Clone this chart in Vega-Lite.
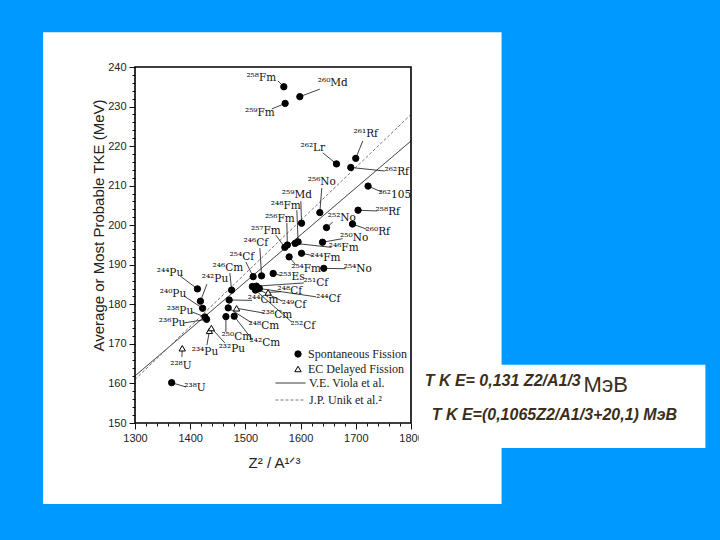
{
  "$schema": "https://vega.github.io/schema/vega-lite/v6.json",
  "background": "#ffffff",
  "autosize": {"type": "none"},
  "padding": {"left": 135, "top": 67, "right": 309, "bottom": 117},
  "width": 276,
  "height": 356,
  "config": {"view": {"stroke": null}, "axis": {"labelOverlap": false, "labelBound": false, "labelFlush": false}},
  "datasets": {
    "nuclides": [
      {"nuclide": "²⁵⁸Fm", "mode": "Spontaneous Fission", "z2a13": 1569.6, "tke": 235.0, "label_x": 1528.9, "label_y": 237.2, "leader_x": 1558.8, "leader_y": 236.5},
      {"nuclide": "²⁶⁰Md", "mode": "Spontaneous Fission", "z2a13": 1598.6, "tke": 232.5, "label_x": 1658.3, "label_y": 235.9, "leader_x": 1634.8, "leader_y": 234.4},
      {"nuclide": "²⁵⁹Fm", "mode": "Spontaneous Fission", "z2a13": 1572.0, "tke": 230.8, "label_x": 1526.2, "label_y": 228.4, "leader_x": 1547.9, "leader_y": 229.4},
      {"nuclide": "²⁶²Lr", "mode": "Spontaneous Fission", "z2a13": 1665.0, "tke": 215.5, "label_x": 1622.1, "label_y": 219.5, "leader_x": 1640.2, "leader_y": 218.3},
      {"nuclide": "²⁶¹Rf", "mode": "Spontaneous Fission", "z2a13": 1699.9, "tke": 216.9, "label_x": 1718.0, "label_y": 223.1, "leader_x": 1712.6, "leader_y": 221.3},
      {"nuclide": "²⁶²Rf", "mode": "Spontaneous Fission", "z2a13": 1690.9, "tke": 214.6, "label_x": 1774.1, "label_y": 213.4, "leader_x": 1752.4, "leader_y": 213.7},
      {"nuclide": "²⁶²105", "mode": "Spontaneous Fission", "z2a13": 1722.2, "tke": 209.9, "label_x": 1770.5, "label_y": 207.6, "leader_x": 1747.0, "leader_y": 208.4},
      {"nuclide": "²⁵⁶No", "mode": "Spontaneous Fission", "z2a13": 1634.8, "tke": 203.2, "label_x": 1638.4, "label_y": 210.9, "leader_x": 1638.4, "leader_y": 209.4},
      {"nuclide": "²⁵⁸Rf", "mode": "Spontaneous Fission", "z2a13": 1704.1, "tke": 203.8, "label_x": 1757.8, "label_y": 203.3, "leader_x": 1737.9, "leader_y": 203.6},
      {"nuclide": "²⁵⁹Md", "mode": "Spontaneous Fission", "z2a13": 1601.7, "tke": 200.5, "label_x": 1593.2, "label_y": 207.6, "leader_x": 1600.4, "leader_y": 206.1},
      {"nuclide": "²⁵²No", "mode": "Spontaneous Fission", "z2a13": 1646.9, "tke": 199.4, "label_x": 1674.6, "label_y": 201.8, "leader_x": 1658.3, "leader_y": 200.8},
      {"nuclide": "²⁶⁰Rf", "mode": "Spontaneous Fission", "z2a13": 1694.0, "tke": 200.3, "label_x": 1739.7, "label_y": 198.3, "leader_x": 1719.8, "leader_y": 199.0},
      {"nuclide": "²⁴⁸Fm", "mode": "Spontaneous Fission", "z2a13": 1595.5, "tke": 195.8, "label_x": 1573.2, "label_y": 204.9, "leader_x": 1593.2, "leader_y": 203.8},
      {"nuclide": "²⁴⁶Fm", "mode": "Spontaneous Fission", "z2a13": 1590.1, "tke": 195.4, "label_x": 1678.0, "label_y": 194.2, "leader_x": 1656.0, "leader_y": 194.4},
      {"nuclide": "²⁵⁶Fm", "mode": "Spontaneous Fission", "z2a13": 1576.0, "tke": 195.0, "label_x": 1562.4, "label_y": 201.6, "leader_x": 1575.1, "leader_y": 200.6},
      {"nuclide": "²⁵⁷Fm", "mode": "Spontaneous Fission", "z2a13": 1571.4, "tke": 194.4, "label_x": 1537.1, "label_y": 198.5, "leader_x": 1555.2, "leader_y": 197.5},
      {"nuclide": "²⁴⁴Fm", "mode": "Spontaneous Fission", "z2a13": 1601.7, "tke": 192.9, "label_x": 1645.0, "label_y": 191.8, "leader_x": 1623.0, "leader_y": 192.3},
      {"nuclide": "²⁵⁴Fm", "mode": "Spontaneous Fission", "z2a13": 1579.2, "tke": 192.0, "label_x": 1610.0, "label_y": 188.9, "leader_x": 1591.0, "leader_y": 190.0},
      {"nuclide": "²⁵⁰No", "mode": "Spontaneous Fission", "z2a13": 1639.7, "tke": 195.7, "label_x": 1697.0, "label_y": 196.8, "leader_x": 1676.0, "leader_y": 196.6},
      {"nuclide": "²⁵⁴No", "mode": "Spontaneous Fission", "z2a13": 1642.0, "tke": 189.1, "label_x": 1703.5, "label_y": 188.9, "leader_x": 1681.8, "leader_y": 189.0},
      {"nuclide": "²⁵³Es", "mode": "Spontaneous Fission", "z2a13": 1550.3, "tke": 187.8, "label_x": 1584.0, "label_y": 186.8, "leader_x": 1564.0, "leader_y": 187.3},
      {"nuclide": "²⁵⁴Cf", "mode": "Spontaneous Fission", "z2a13": 1514.1, "tke": 187.0, "label_x": 1493.6, "label_y": 192.0, "leader_x": 1500.9, "leader_y": 190.7},
      {"nuclide": "²⁴⁶Cf", "mode": "Spontaneous Fission", "z2a13": 1529.3, "tke": 187.2, "label_x": 1519.0, "label_y": 195.5, "leader_x": 1526.2, "leader_y": 194.2},
      {"nuclide": "²⁴⁶Cm", "mode": "Spontaneous Fission", "z2a13": 1475.0, "tke": 183.6, "label_x": 1468.3, "label_y": 189.2, "leader_x": 1471.9, "leader_y": 187.9},
      {"nuclide": "²⁵¹Cf", "mode": "Spontaneous Fission", "z2a13": 1519.9, "tke": 184.6, "label_x": 1627.5, "label_y": 185.4, "leader_x": 1605.8, "leader_y": 185.4},
      {"nuclide": "²⁴⁴Cf", "mode": "Spontaneous Fission", "z2a13": 1525.3, "tke": 184.0, "label_x": 1650.0, "label_y": 181.4, "leader_x": 1628.0, "leader_y": 181.9},
      {"nuclide": "²⁴⁹Cf", "mode": "Spontaneous Fission", "z2a13": 1512.6, "tke": 184.5, "label_x": 1588.0, "label_y": 179.8, "leader_x": 1567.0, "leader_y": 180.8},
      {"nuclide": "²⁵²Cf", "mode": "Spontaneous Fission", "z2a13": 1518.1, "tke": 183.6, "label_x": 1604.0, "label_y": 174.5, "leader_x": 1584.1, "leader_y": 175.5},
      {"nuclide": "²⁴⁴Cm", "mode": "Spontaneous Fission", "z2a13": 1470.6, "tke": 181.1, "label_x": 1532.0, "label_y": 181.0, "leader_x": 1512.0, "leader_y": 181.0},
      {"nuclide": "²⁴⁸Cm", "mode": "Spontaneous Fission", "z2a13": 1468.8, "tke": 179.1, "label_x": 1533.4, "label_y": 174.5, "leader_x": 1511.7, "leader_y": 175.3},
      {"nuclide": "²⁵⁰Cm", "mode": "Spontaneous Fission", "z2a13": 1464.7, "tke": 176.9, "label_x": 1484.6, "label_y": 171.7, "leader_x": 1464.7, "leader_y": 173.0},
      {"nuclide": "²⁴²Cm", "mode": "Spontaneous Fission", "z2a13": 1479.7, "tke": 177.0, "label_x": 1535.2, "label_y": 170.2, "leader_x": 1511.7, "leader_y": 171.2},
      {"nuclide": "²⁴⁴Pu", "mode": "Spontaneous Fission", "z2a13": 1413.1, "tke": 183.9, "label_x": 1363.3, "label_y": 187.9, "leader_x": 1381.4, "leader_y": 187.2},
      {"nuclide": "²⁴²Pu", "mode": "Spontaneous Fission", "z2a13": 1418.5, "tke": 180.8, "label_x": 1444.8, "label_y": 186.4, "leader_x": 1430.3, "leader_y": 185.1},
      {"nuclide": "²⁴⁰Pu", "mode": "Spontaneous Fission", "z2a13": 1422.5, "tke": 179.0, "label_x": 1368.8, "label_y": 182.6, "leader_x": 1388.7, "leader_y": 182.1},
      {"nuclide": "²³⁸Pu", "mode": "Spontaneous Fission", "z2a13": 1426.7, "tke": 176.8, "label_x": 1381.4, "label_y": 178.3, "leader_x": 1403.1, "leader_y": 178.1},
      {"nuclide": "²³⁶Pu", "mode": "Spontaneous Fission", "z2a13": 1429.7, "tke": 176.2, "label_x": 1367.0, "label_y": 175.3, "leader_x": 1388.7, "leader_y": 175.3},
      {"nuclide": "²³⁸U", "mode": "Spontaneous Fission", "z2a13": 1366.4, "tke": 160.2, "label_x": 1408.6, "label_y": 158.8, "leader_x": 1392.3, "leader_y": 159.1},
      {"nuclide": "²²⁸U", "mode": "EC Delayed Fission", "z2a13": 1385.6, "tke": 168.9, "label_x": 1383.2, "label_y": 164.4, "leader_x": 1385.0, "leader_y": 166.7},
      {"nuclide": "²³⁴Pu", "mode": "EC Delayed Fission", "z2a13": 1434.8, "tke": 173.3, "label_x": 1426.7, "label_y": 167.9, "leader_x": 1430.3, "leader_y": 169.7},
      {"nuclide": "²³²Pu", "mode": "EC Delayed Fission", "z2a13": 1438.4, "tke": 174.0, "label_x": 1475.5, "label_y": 168.7, "leader_x": 1462.9, "leader_y": 170.2},
      {"nuclide": "²³⁸Cm", "mode": "EC Delayed Fission", "z2a13": 1484.0, "tke": 179.0, "label_x": 1557.0, "label_y": 177.3, "leader_x": 1533.4, "leader_y": 177.8},
      {"nuclide": "²⁴⁸Cf", "mode": "EC Delayed Fission", "z2a13": 1541.2, "tke": 183.0, "label_x": 1580.5, "label_y": 183.4, "leader_x": 1564.2, "leader_y": 183.2}
    ],
    "fits": [
      {"fit": "V.E. Viola et al.", "z2a13": 1300, "tke": 161.9},
      {"fit": "V.E. Viola et al.", "z2a13": 1800, "tke": 221.3},
      {"fit": "J.P. Unik et al.²", "z2a13": 1300, "tke": 161.0},
      {"fit": "J.P. Unik et al.²", "z2a13": 1800, "tke": 228.0}
    ]
  },
  "layer": [
    {
      "data": {"name": "fits"},
      "mark": {"type": "line", "strokeWidth": 1},
      "encoding": {
        "x": {"field": "z2a13", "type": "quantitative", "scale": {"domain": [1300, 1800], "nice": false, "zero": false},
          "axis": {"title": "Z² / A¹ᐟ³", "tickCount": 100, "values": [1300, 1320, 1340, 1360, 1380, 1400, 1420, 1440, 1460, 1480, 1500, 1520, 1540, 1560, 1580, 1600, 1620, 1640, 1660, 1680, 1700, 1720, 1740, 1760, 1780, 1800],
            "format": "d", "labelExpr": "datum.value % 100 === 0 ? datum.label : ''", "labelOverlap": false, "labelFlush": false, "labelBound": false,
            "domain": false, "grid": false, "tickColor": "#111111", "tickWidth": 1,
            "tickSize": {"condition": {"test": "datum.value % 100 === 0", "value": 6}, "value": 3},
            "labelPadding": 3, "labelFont": "Liberation Sans", "labelFontSize": 11, "labelColor": "#222222",
            "titleFont": "Liberation Sans", "titleFontSize": 15, "titleFontWeight": "normal", "titleColor": "#222222",
            "titleX": 139, "titleY": 39, "titleBaseline": "middle", "titleAlign": "center"}},
        "y": {"field": "tke", "type": "quantitative", "scale": {"domain": [150, 240], "nice": false, "zero": false},
          "axis": {"title": "Average or Most Probable TKE (MeV)", "tickCount": 100, "values": [150, 152, 154, 156, 158, 160, 162, 164, 166, 168, 170, 172, 174, 176, 178, 180, 182, 184, 186, 188, 190, 192, 194, 196, 198, 200, 202, 204, 206, 208, 210, 212, 214, 216, 218, 220, 222, 224, 226, 228, 230, 232, 234, 236, 238, 240],
            "format": "d", "labelExpr": "datum.value % 10 === 0 ? datum.label : ''", "labelOverlap": false, "labelFlush": false, "labelBound": false,
            "domain": false, "grid": false, "tickColor": "#111111", "tickWidth": 1,
            "tickSize": {"condition": {"test": "datum.value % 10 === 0", "value": 6}, "value": 3},
            "labelPadding": 3, "labelFont": "Liberation Sans", "labelFontSize": 11, "labelColor": "#222222",
            "titleFont": "Liberation Sans", "titleFontSize": 15, "titleFontWeight": "normal", "titleColor": "#222222",
            "titleX": -37, "titleY": 158, "titleBaseline": "middle", "titleAlign": "center", "titleAngle": 270}},
        "strokeDash": {"field": "fit", "type": "nominal",
          "scale": {"domain": ["V.E. Viola et al.", "J.P. Unik et al.²"], "range": [[1, 0], [3, 2]]},
          "legend": {"orient": "none", "legendX": 140, "legendY": 310, "title": null, "symbolType": "stroke", "symbolSize": 900, "symbolStrokeWidth": 1, "clipHeight": 12, "labelFont": "Liberation Serif", "labelFontSize": 12, "labelColor": "#222222", "padding": 0, "rowPadding": 5, "labelOffset": 3}},
        "color": {"field": "fit", "type": "nominal",
          "scale": {"domain": ["V.E. Viola et al.", "J.P. Unik et al.²"], "range": ["#222222", "#777777"]},
          "legend": {"orient": "none", "legendX": 140, "legendY": 310, "title": null, "symbolType": "stroke", "symbolSize": 900, "symbolStrokeWidth": 1, "clipHeight": 12, "labelFont": "Liberation Serif", "labelFontSize": 12, "labelColor": "#222222", "padding": 0, "rowPadding": 5, "labelOffset": 3}}
      }
    },
    {
      "data": {"values": [{}]},
      "mark": {"type": "rect", "fill": "#0099ff"},
      "encoding": {
        "x": {"datum": 1000, "type": "quantitative"},
        "x2": {"datum": 2400},
        "y": {"datum": 248.8, "type": "quantitative"},
        "y2": {"datum": 262}
      }
    },
    {
      "data": {"values": [{}]},
      "mark": {"type": "rect", "fill": "#0099ff"},
      "encoding": {
        "x": {"datum": 1000, "type": "quantitative"},
        "x2": {"datum": 1133.5},
        "y": {"datum": 110, "type": "quantitative"},
        "y2": {"datum": 249}
      }
    },
    {
      "data": {"values": [{}]},
      "mark": {"type": "rect", "fill": "#0099ff"},
      "encoding": {
        "x": {"datum": 1133, "type": "quantitative"},
        "x2": {"datum": 2400},
        "y": {"datum": 110, "type": "quantitative"},
        "y2": {"datum": 129.5}
      }
    },
    {
      "data": {"values": [{}]},
      "mark": {"type": "rect", "fill": "#0099ff"},
      "encoding": {
        "x": {"datum": 1964.1, "type": "quantitative"},
        "x2": {"datum": 2400},
        "y": {"datum": 164.7, "type": "quantitative"},
        "y2": {"datum": 249}
      }
    },
    {
      "data": {"values": [{}]},
      "mark": {"type": "rect", "fill": "#0099ff"},
      "encoding": {
        "x": {"datum": 1964.1, "type": "quantitative"},
        "x2": {"datum": 2400},
        "y": {"datum": 110, "type": "quantitative"},
        "y2": {"datum": 143.7}
      }
    },
    {
      "data": {"values": [{}]},
      "mark": {"type": "rect", "fill": "#0099ff"},
      "encoding": {
        "x": {"datum": 2333.3, "type": "quantitative"},
        "x2": {"datum": 2400},
        "y": {"datum": 143.5, "type": "quantitative"},
        "y2": {"datum": 165}
      }
    },
    {
      "data": {"values": [{}]},
      "mark": {"type": "rect", "fill": "#ffffff"},
      "encoding": {
        "x": {"datum": 1813.9, "type": "quantitative"},
        "x2": {"datum": 1964.5},
        "y": {"datum": 143.7, "type": "quantitative"},
        "y2": {"datum": 164.7}
      }
    },
    {
      "data": {"name": "nuclides"},
      "mark": {"type": "rule", "stroke": "#111111", "strokeWidth": 0.8},
      "encoding": {
        "x": {"field": "z2a13", "type": "quantitative"},
        "y": {"field": "tke", "type": "quantitative"},
        "x2": {"field": "leader_x"},
        "y2": {"field": "leader_y"}
      }
    },
    {
      "data": {"name": "nuclides"},
      "mark": {"type": "point", "filled": true, "strokeWidth": 1, "size": 40, "opacity": 1},
      "encoding": {
        "x": {"field": "z2a13", "type": "quantitative"},
        "y": {"field": "tke", "type": "quantitative"},
        "shape": {"field": "mode", "type": "nominal",
          "scale": {"domain": ["Spontaneous Fission", "EC Delayed Fission"], "range": ["circle", "triangle-up"]},
          "legend": {"orient": "none", "legendX": 157, "legendY": 281, "title": null, "symbolSize": 40, "symbolStrokeWidth": 1, "labelFont": "Liberation Serif", "labelFontSize": 12, "labelColor": "#222222", "padding": 0, "rowPadding": 3, "labelOffset": 4}},
        "fill": {"field": "mode", "type": "nominal",
          "scale": {"domain": ["Spontaneous Fission", "EC Delayed Fission"], "range": ["#000000", "#ffffff"]},
          "legend": {"orient": "none", "legendX": 157, "legendY": 281, "title": null, "symbolSize": 40, "symbolStrokeWidth": 1, "labelFont": "Liberation Serif", "labelFontSize": 12, "labelColor": "#222222", "padding": 0, "rowPadding": 3, "labelOffset": 4}},
        "stroke": {"field": "mode", "type": "nominal",
          "scale": {"domain": ["Spontaneous Fission", "EC Delayed Fission"], "range": ["#000000", "#000000"]},
          "legend": {"orient": "none", "legendX": 157, "legendY": 281, "title": null, "symbolSize": 40, "symbolStrokeWidth": 1, "labelFont": "Liberation Serif", "labelFontSize": 12, "labelColor": "#222222", "padding": 0, "rowPadding": 3, "labelOffset": 4}}
      }
    },
    {
      "data": {"name": "nuclides"},
      "mark": {"type": "text", "font": "DejaVu Serif", "fontSize": 10.5, "color": "#111111", "align": "center", "baseline": "middle"},
      "encoding": {
        "x": {"field": "label_x", "type": "quantitative"},
        "y": {"field": "label_y", "type": "quantitative"},
        "text": {"field": "nuclide", "type": "nominal"}
      }
    },
    {
      "data": {"values": [{}]},
      "mark": {"type": "rect", "filled": false, "stroke": "#000000", "strokeWidth": 1.6},
      "encoding": {
        "x": {"datum": 1300, "type": "quantitative"},
        "x2": {"datum": 1800},
        "y": {"datum": 150, "type": "quantitative"},
        "y2": {"datum": 240}
      }
    },
    {
      "data": {"values": [{}]},
      "mark": {"type": "text", "text": "T K E= 0,131 Z2/A1/3", "font": "Liberation Sans", "fontSize": 16, "fontWeight": "bold", "fontStyle": "italic", "color": "#3b2e1a", "align": "left", "baseline": "middle"},
      "encoding": {
        "x": {"datum": 1824.8, "type": "quantitative"},
        "y": {"datum": 160.6, "type": "quantitative"}
      }
    },
    {
      "data": {"values": [{}]},
      "mark": {"type": "text", "text": "МэВ", "font": "Liberation Sans", "fontSize": 22, "color": "#3b2e1a", "align": "left", "baseline": "middle"},
      "encoding": {
        "x": {"datum": 2112.5, "type": "quantitative"},
        "y": {"datum": 159.6, "type": "quantitative"}
      }
    },
    {
      "data": {"values": [{}]},
      "mark": {"type": "text", "text": "T K E=(0,1065Z2/A1/3+20,1) МэВ", "font": "Liberation Sans", "fontSize": 16, "fontWeight": "bold", "fontStyle": "italic", "color": "#3b2e1a", "align": "left", "baseline": "middle"},
      "encoding": {
        "x": {"datum": 1837.5, "type": "quantitative"},
        "y": {"datum": 152.0, "type": "quantitative"}
      }
    }
  ]
}
